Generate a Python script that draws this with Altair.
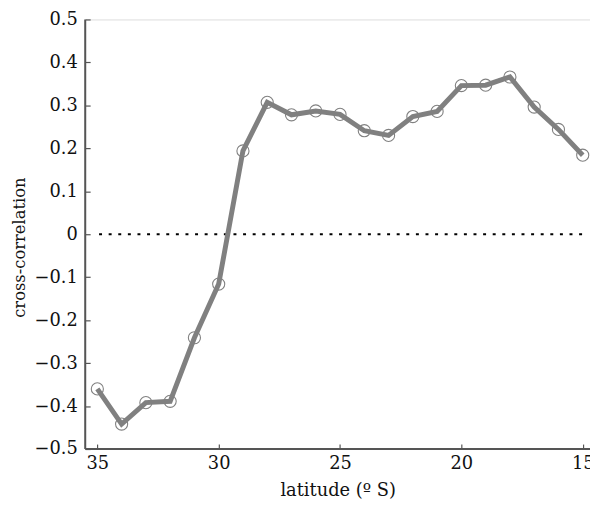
import altair as alt
import pandas as pd

latitude = [35, 34, 33, 32, 31, 30, 29, 28, 27, 26, 25, 24, 23, 22, 21, 20, 19, 18, 17, 16, 15]
xcorr = [-0.360, -0.442, -0.392, -0.389, -0.241, -0.116, 0.194, 0.307, 0.278, 0.287, 0.279,
         0.241, 0.230, 0.274, 0.286, 0.346, 0.347, 0.366, 0.296, 0.244, 0.184]
x_ticks = [35, 30, 25, 20, 15]
y_ticks = [-0.5, -0.4, -0.3, -0.2, -0.1, 0, 0.1, 0.2, 0.3, 0.4, 0.5]

df = pd.DataFrame({"lat": latitude, "cc": xcorr})

W, H = 510, 434
FONT = "DejaVu Serif"

xscale = alt.Scale(domain=[35.5, 14.7], nice=False, zero=False)
yscale = alt.Scale(domain=[-0.5, 0.5], nice=False, zero=False)

xaxis = alt.Axis(values=x_ticks, title="latitude (º S)", grid=False, domain=False,
                 offset=-5, tickSize=5, tickColor="#555", tickWidth=1.2,
                 labelFont=FONT, labelFontSize=18, labelColor="#111", labelPadding=6,
                 titleFont=FONT, titleFontSize=18, titleFontWeight="normal", titleColor="#111",
                 titlePadding=9, labelFlush=False)
yaxis = alt.Axis(values=y_ticks, title="cross-correlation", grid=False, domain=False,
                 offset=-5, tickSize=5, tickColor="#555", tickWidth=1.2,
                 labelExpr="datum.value == 0 ? '0' : replace(format(datum.value, '.1f'), '-', '–')",
                 labelFont=FONT, labelFontSize=18, labelColor="#111", labelPadding=8,
                 titleFont=FONT, titleFontSize=16.5, titleFontWeight="normal", titleColor="#111",
                 titlePadding=7, titleY=230, labelFlush=False)

base = alt.Chart(df)

line = base.mark_line(color="#808080", strokeWidth=5).encode(
    x=alt.X("lat:Q", scale=xscale, axis=xaxis),
    y=alt.Y("cc:Q", scale=yscale, axis=yaxis),
)
pts = base.mark_point(shape="circle", size=150, filled=False, color="#808080", strokeWidth=1.1, opacity=1).encode(
    x=alt.X("lat:Q", scale=xscale),
    y=alt.Y("cc:Q", scale=yscale),
)
zero = alt.Chart(pd.DataFrame({"z": [0]})).mark_rule(color="#000", strokeWidth=2, strokeDash=[3, 6.7]).encode(
    y=alt.Y("z:Q", scale=yscale),
    x=alt.value(14),
    x2=alt.value(W - 4),
)
left_line = alt.Chart(pd.DataFrame({"a": [0]})).mark_rule(color="#555", strokeWidth=2).encode(
    x=alt.value(0), y=alt.value(0), y2=alt.value(H)
)
bottom_line = alt.Chart(pd.DataFrame({"a": [0]})).mark_rule(color="#555", strokeWidth=2).encode(
    x=alt.value(0), x2=alt.value(W), y=alt.value(H)
)

chart = alt.layer(zero, line, pts, left_line, bottom_line).properties(
    width=W, height=H,
    autosize=alt.AutoSizeParams(type="none"),
    padding={"left": 78, "top": 9, "right": 0, "bottom": 55},
).configure_view(stroke=None).configure(background="white")

chart.save("out.html", embed_options={"renderer": "svg", "actions": False})
